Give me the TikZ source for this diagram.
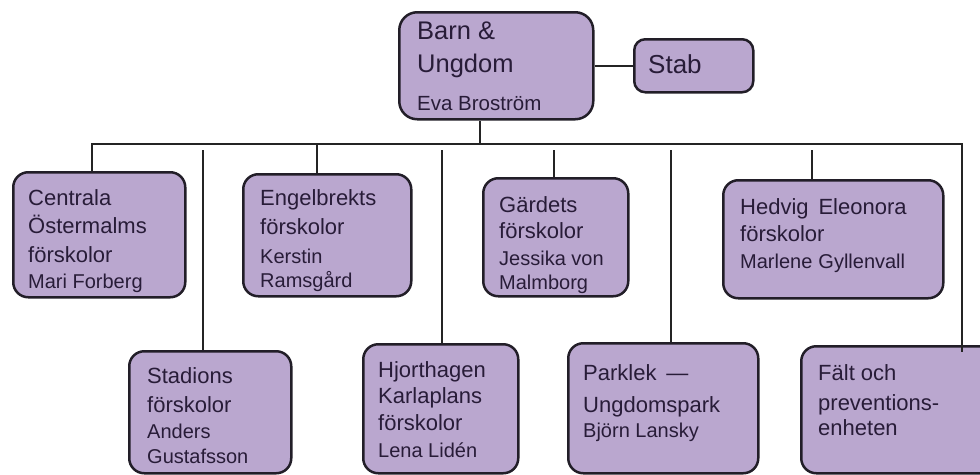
\documentclass[tikz,border=0pt]{standalone}
\usepackage{fontspec}
\setmainfont{Liberation Sans}
\definecolor{boxfill}{RGB}{186,167,207}
\definecolor{boxline}{RGB}{34,30,40}
\definecolor{txtcol}{RGB}{40,28,56}
\definecolor{conn}{RGB}{36,36,36}
\newcommand\tline[2]{{\baselineskip=#1pt\hbox{#2}}}
\newcommand\persname{\fontsize{20}{24}\selectfont}
\tikzset{
  bx/.style={draw=boxline, fill=boxfill, line width=2.5pt, rounded corners=15pt,
             inner sep=0pt, anchor=north west},
  txt/.style={anchor=base west, inner sep=0pt, text=txtcol, font=\fontsize{22}{28}\selectfont},
  conline/.style={draw=conn, line width=2.2pt}
}
\begin{document}
\begin{tikzpicture}[x=1pt,y=-1pt]
\useasboundingbox (0,0) rectangle (980,474);
\clip (0,0) rectangle (980,474);
% boxes
\node[bx, rounded corners=18pt, minimum width=194pt, minimum height=107pt] (top) at (398,11) {};
\node[bx, rounded corners=11pt, minimum width=119pt, minimum height=53pt] (stab) at (633,38) {};
\node[bx, minimum width=172pt, minimum height=125pt] (c1) at (12,171) {};
\node[bx, minimum width=168pt, minimum height=122pt] (c2) at (242,173) {};
\node[bx, minimum width=145pt, minimum height=118pt] (c3) at (482,177) {};
\node[bx, minimum width=220pt, minimum height=118pt] (c4) at (722,179) {};
\node[bx, minimum width=162pt, minimum height=122pt] (d1) at (128,350) {};
\node[bx, minimum width=155pt, minimum height=129pt] (d2) at (362,343) {};
\node[bx, minimum width=190pt, minimum height=130pt] (d3) at (567,342) {};
\node[bx, minimum width=200pt, minimum height=127pt] (d4) at (800,345) {};
% texts
\node[txt, font=\fontsize{25.5}{30}\selectfont] (ttop) at (417,39)
  {\vtop{\tline{0}{Barn \&}\tline{33}{Ungdom}\tline{38}{\fontsize{20.5}{24}\selectfont Eva Broström}}};
\node[txt, font=\fontsize{26}{30}\selectfont] (tstab) at (648,73) {Stab};
\node[txt] (tc1) at (28,205)
  {\vtop{\tline{0}{Centrala}\tline{28}{Östermalms}\tline{29}{förskolor}\tline{26}{\persname Mari Forberg}}};
\node[txt] (tc2) at (260,205)
  {\vtop{\tline{0}{Engelbrekts}\tline{29}{förskolor}\tline{29}{\persname Kerstin}\tline{24}{\persname Ramsgård}}};
\node[txt] (tc3) at (499,212)
  {\vtop{\tline{0}{Gärdets}\tline{26}{förskolor}\tline{27}{\persname Jessika von}\tline{24}{\persname Malmborg}}};
\node[txt] (tc4) at (740,214)
  {\vtop{\tline{0}{Hedvig\hspace{0.45em}Eleonora}\tline{27}{förskolor}\tline{27}{\persname Marlene\hspace{0.3em}Gyllenvall}}};
\node[txt] (td1) at (147,383)
  {\vtop{\tline{0}{Stadions}\tline{29}{förskolor}\tline{26}{\persname Anders}\tline{25}{\persname Gustafsson}}};
\node[txt] (td2) at (378,377)
  {\vtop{\tline{0}{Hjorthagen}\tline{26}{Karlaplans}\tline{27}{förskolor}\tline{27}{\persname Lena Lidén}}};
\node[txt] (td3) at (583,380)
  {\vtop{\tline{0}{Parklek \,—}\tline{32}{Ungdomspark}\tline{25}{\persname Björn Lansky}}};
\node[txt] (td4) at (818,380)
  {\vtop{\tline{0}{Fält och}\tline{30}{preventions-}\tline{25}{enheten}}};
% bus coordinates
\coordinate (j0) at (480,144);
\coordinate (bl) at (92,144);
\coordinate (br) at (962,144);
\coordinate (s2) at (317,144);
\coordinate (u1) at (203,150);
\coordinate (u2) at (442,150);
\coordinate (s3) at (554,150);
\coordinate (u3) at (671,150);
\coordinate (s4) at (812,150);
% connectors
\draw[conline] (top.east) -- (stab.west);
\draw[conline] (j0) -- (j0 |- top.south);
\draw[conline] (bl |- c1.north) -- (bl) -- (br) -- ([yshift=-7pt]br |- d4.north);
\draw[conline] (s2) -- (s2 |- c2.north);
\draw[conline] (s3) -- (s3 |- c3.north);
\draw[conline] (s4) -- (s4 |- c4.north);
\draw[conline] (u1) -- (u1 |- d1.north);
\draw[conline] (u2) -- (u2 |- d2.north);
\draw[conline] (u3) -- (u3 |- d3.north);
\end{tikzpicture}
\end{document}
